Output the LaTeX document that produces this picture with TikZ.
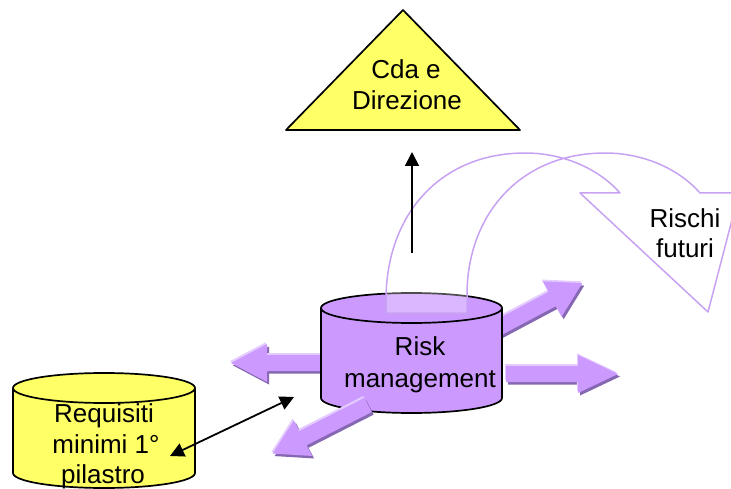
\documentclass[tikz,border=0pt]{standalone}
\usepackage{fontspec}
\setmainfont{Liberation Sans}
\usetikzlibrary{arrows.meta}
\definecolor{pmain}{RGB}{204,153,255}
\definecolor{plight}{RGB}{228,204,255}
\definecolor{pshade}{RGB}{134,104,178}
\definecolor{pline}{RGB}{200,162,242}
\definecolor{ylw}{RGB}{255,255,102}

% bevelled block arrow: x, y, angle, length, shaft half-width, head half-width, head length
\newcommand{\blockarrow}[7]{%
  \foreach \dx/\dy/\col in {2/2.5/pshade,-1.2/-1.8/plight,0/0/pmain}{%
    \fill[\col, shift={(#1+\dx,#2+\dy)}, rotate=#3]
      (0,-#5) -- ({#4-#7},-#5) -- ({#4-#7},-#6) -- (#4,0)
      -- ({#4-#7},#6) -- ({#4-#7},#5) -- (0,#5) -- cycle;
  }}

\begin{document}
\begin{tikzpicture}[x=1pt,y=-1pt,
  lbl/.style={font=\fontsize{26}{31}\selectfont, inner sep=0pt, anchor=base},
  outline/.style={draw=black, line width=1.7pt, line join=round},
  link/.style={draw=black, line width=1.8pt, -{Triangle[length=14pt,width=14pt]}},
  dlink/.style={draw=black, line width=1.8pt, {Triangle[length=14pt,width=14pt]}-{Triangle[length=14pt,width=14pt]}},
  ribbon/.style={draw=pline, line width=1.5pt, fill=white, fill opacity=0.3, line join=round},
  ]
\useasboundingbox (0,0) rectangle (731,489);
\clip (0,0) rectangle (731,489);

% arrows leaving from behind the risk cylinder
\blockarrow{330}{363}{180}{99}{8}{19}{36}
\blockarrow{494}{330}{28}{100}{8}{20}{34}

% risk management cylinder
\path[outline, fill=pmain] (321,308) -- (321,398)
  arc[start angle=180, end angle=360, x radius=90.5pt, y radius=15pt]
  -- (502,308)
  arc[start angle=0, end angle=180, x radius=90.5pt, y radius=15pt] -- cycle;
\draw[outline] (321,308) arc[start angle=180, end angle=360, x radius=90.5pt, y radius=15pt];

% arrows in front of the cylinder
\blockarrow{506}{374}{0}{112}{8}{19}{40}
\blockarrow{368}{405}{207}{107}{8}{20}{34}

% curved ribbon arrow towards future risks
\path[ribbon] (386,313) -- (386,300)
  .. controls (386,215) and (440,153) .. (525,153)
  .. controls (565,153) and (600,170) .. (620,193)
  -- (580,193) -- (708,312) -- (739,193) -- (700,193)
  .. controls (680,170) and (645,153) .. (605,153)
  .. controls (520,153) and (467,215) .. (467,295)
  -- (467,313) -- cycle;

% board and management triangle
\path[outline, fill=ylw] (403,10) -- (520,130) -- (286,130) -- cycle;
\node[lbl] (cdaA) at (406,79) {Cda e};
\node[lbl] (cdaB) at (407,110) {Direzione};

% first pillar cylinder
\path[outline, fill=ylw] (13,388) -- (13,473)
  arc[start angle=180, end angle=360, x radius=91pt, y radius=15pt]
  -- (195,388)
  arc[start angle=0, end angle=180, x radius=91pt, y radius=15pt] -- cycle;
\draw[outline] (13,388) arc[start angle=180, end angle=360, x radius=91pt, y radius=15pt];

% labels
\node[lbl] (rmA) at (420,355) {Risk};
\node[lbl] (rmB) at (420,387) {management};
\node[lbl] (rfA) at (685,228) {Rischi};
\node[lbl] (rfB) at (685,258) {futuri};
\node[lbl] (rqA) at (104,422) {Requisiti};
\node[lbl] (rqB) at (106,453) {minimi 1°};
\node[lbl] (rqC) at (103,483) {pilastro};

% reporting and requirement connectors
\coordinate (upS) at (412,253);
\coordinate (upE) at (412,152);
\draw[link] (upS) -- (upE);
\coordinate (reqEnd) at (170,456);
\coordinate (rmEnd) at (294,397);
\draw[dlink] (reqEnd) -- (rmEnd);
\end{tikzpicture}
\end{document}
